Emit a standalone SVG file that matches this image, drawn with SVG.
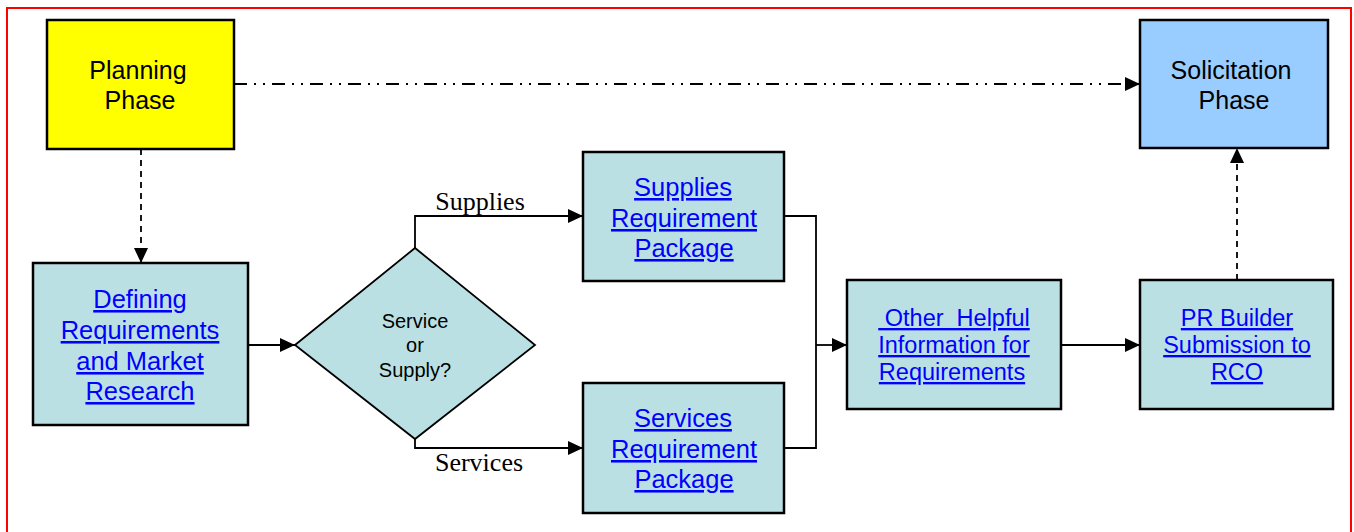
<svg xmlns="http://www.w3.org/2000/svg" width="1354" height="532" viewBox="0 0 1354 532">
<style>
.box{fill:#BBE0E3;stroke:#000;stroke-width:2.5}
.t{font-family:"Liberation Sans",Arial,sans-serif;text-anchor:middle;fill:#000}
.lk{font-family:"Liberation Sans",Arial,sans-serif;text-anchor:middle;fill:#0000FF;text-decoration:underline;white-space:pre}
.lbl{font-family:"Liberation Serif","Times New Roman",serif;text-anchor:middle;fill:#000;font-size:26px}
.c{fill:none;stroke:#000;stroke-width:1.8}
</style>
<defs>
<marker id="ahl" markerWidth="15" markerHeight="14" refX="15" refY="7" orient="auto" markerUnits="userSpaceOnUse" viewBox="0 0 15 14">
<path d="M0,0 L15,7 L0,14 z" fill="#000"/>
</marker>
</defs>
<rect x="7" y="8" width="1344" height="540" fill="#fff" stroke="#FF0000" stroke-width="2"/>
<g id="connectors">
<line class="c" x1="234" y1="84" x2="1140" y2="84" stroke-dasharray="13,7,2,7,2,7" marker-end="url(#ahl)"/>
<line class="c" x1="141" y1="149" x2="141" y2="263" stroke-dasharray="6,5" marker-end="url(#ahl)"/>
<line class="c" x1="248" y1="345" x2="295" y2="345" marker-end="url(#ahl)"/>
<polyline class="c" points="415,248 415,216 583,216" marker-end="url(#ahl)"/>
<polyline class="c" points="415,439 415,448 583,448" marker-end="url(#ahl)"/>
<polyline class="c" points="784,216 816,216 816,448 784,448"/>
<line class="c" x1="816" y1="345" x2="847" y2="345" marker-end="url(#ahl)"/>
<line class="c" x1="1061" y1="345" x2="1140" y2="345" marker-end="url(#ahl)"/>
<line class="c" x1="1237" y1="280" x2="1237" y2="148" stroke-dasharray="6,5" marker-end="url(#ahl)"/>
<text class="lbl" x="480" y="210">Supplies</text>
<text class="lbl" x="479" y="471">Services</text>
</g>
<g id="planning">
<rect x="47" y="20" width="187" height="129" fill="#FFFF00" stroke="#000" stroke-width="2.5"/>
<text class="t" font-size="25" x="138" y="79">Planning</text>
<text class="t" font-size="25" x="140" y="109">Phase</text>
</g>
<g id="solicitation">
<rect x="1140" y="20" width="188" height="128" fill="#99CCFF" stroke="#000" stroke-width="2.5"/>
<text class="t" font-size="25" x="1231" y="79">Solicitation</text>
<text class="t" font-size="25" x="1234" y="109">Phase</text>
</g>
<g id="defining">
<rect class="box" x="33" y="263" width="215" height="162"/>
<text class="lk" font-size="25.5" x="140" y="308">Defining</text>
<text class="lk" font-size="25.5" x="140" y="339">Requirements</text>
<text class="lk" font-size="25.5" x="140" y="370">and Market</text>
<text class="lk" font-size="25.5" x="140" y="400">Research</text>
</g>
<g id="decision">
<polygon points="295,345 415,248 535,345 415,439" fill="#BBE0E3" stroke="#000" stroke-width="1.8"/>
<text class="t" font-size="20" x="415" y="328">Service</text>
<text class="t" font-size="20" x="415" y="352">or</text>
<text class="t" font-size="20" x="415" y="377">Supply?</text>
</g>
<g id="supplies">
<rect class="box" x="583" y="152" width="201" height="129"/>
<text class="lk" font-size="25.5" x="683" y="196">Supplies</text>
<text class="lk" font-size="25.5" x="684" y="227">Requirement</text>
<text class="lk" font-size="25.5" x="684" y="257">Package</text>
</g>
<g id="services">
<rect class="box" x="583" y="383" width="201" height="130"/>
<text class="lk" font-size="25.5" x="683" y="427">Services</text>
<text class="lk" font-size="25.5" x="684" y="458">Requirement</text>
<text class="lk" font-size="25.5" x="684" y="488">Package</text>
</g>
<g id="other">
<rect class="box" x="847" y="280" width="214" height="129"/>
<text class="lk" font-size="23.5" x="954" y="326"> Other  Helpful</text>
<text class="lk" font-size="23.5" x="954" y="353">Information for</text>
<text class="lk" font-size="23.5" x="952" y="380">Requirements</text>
</g>
<g id="prbuilder">
<rect class="box" x="1140" y="280" width="193" height="129"/>
<text class="lk" font-size="23.5" x="1237" y="326">PR Builder</text>
<text class="lk" font-size="23.5" x="1237" y="353">Submission to</text>
<text class="lk" font-size="23.5" x="1237" y="380">RCO</text>
</g>
</svg>
